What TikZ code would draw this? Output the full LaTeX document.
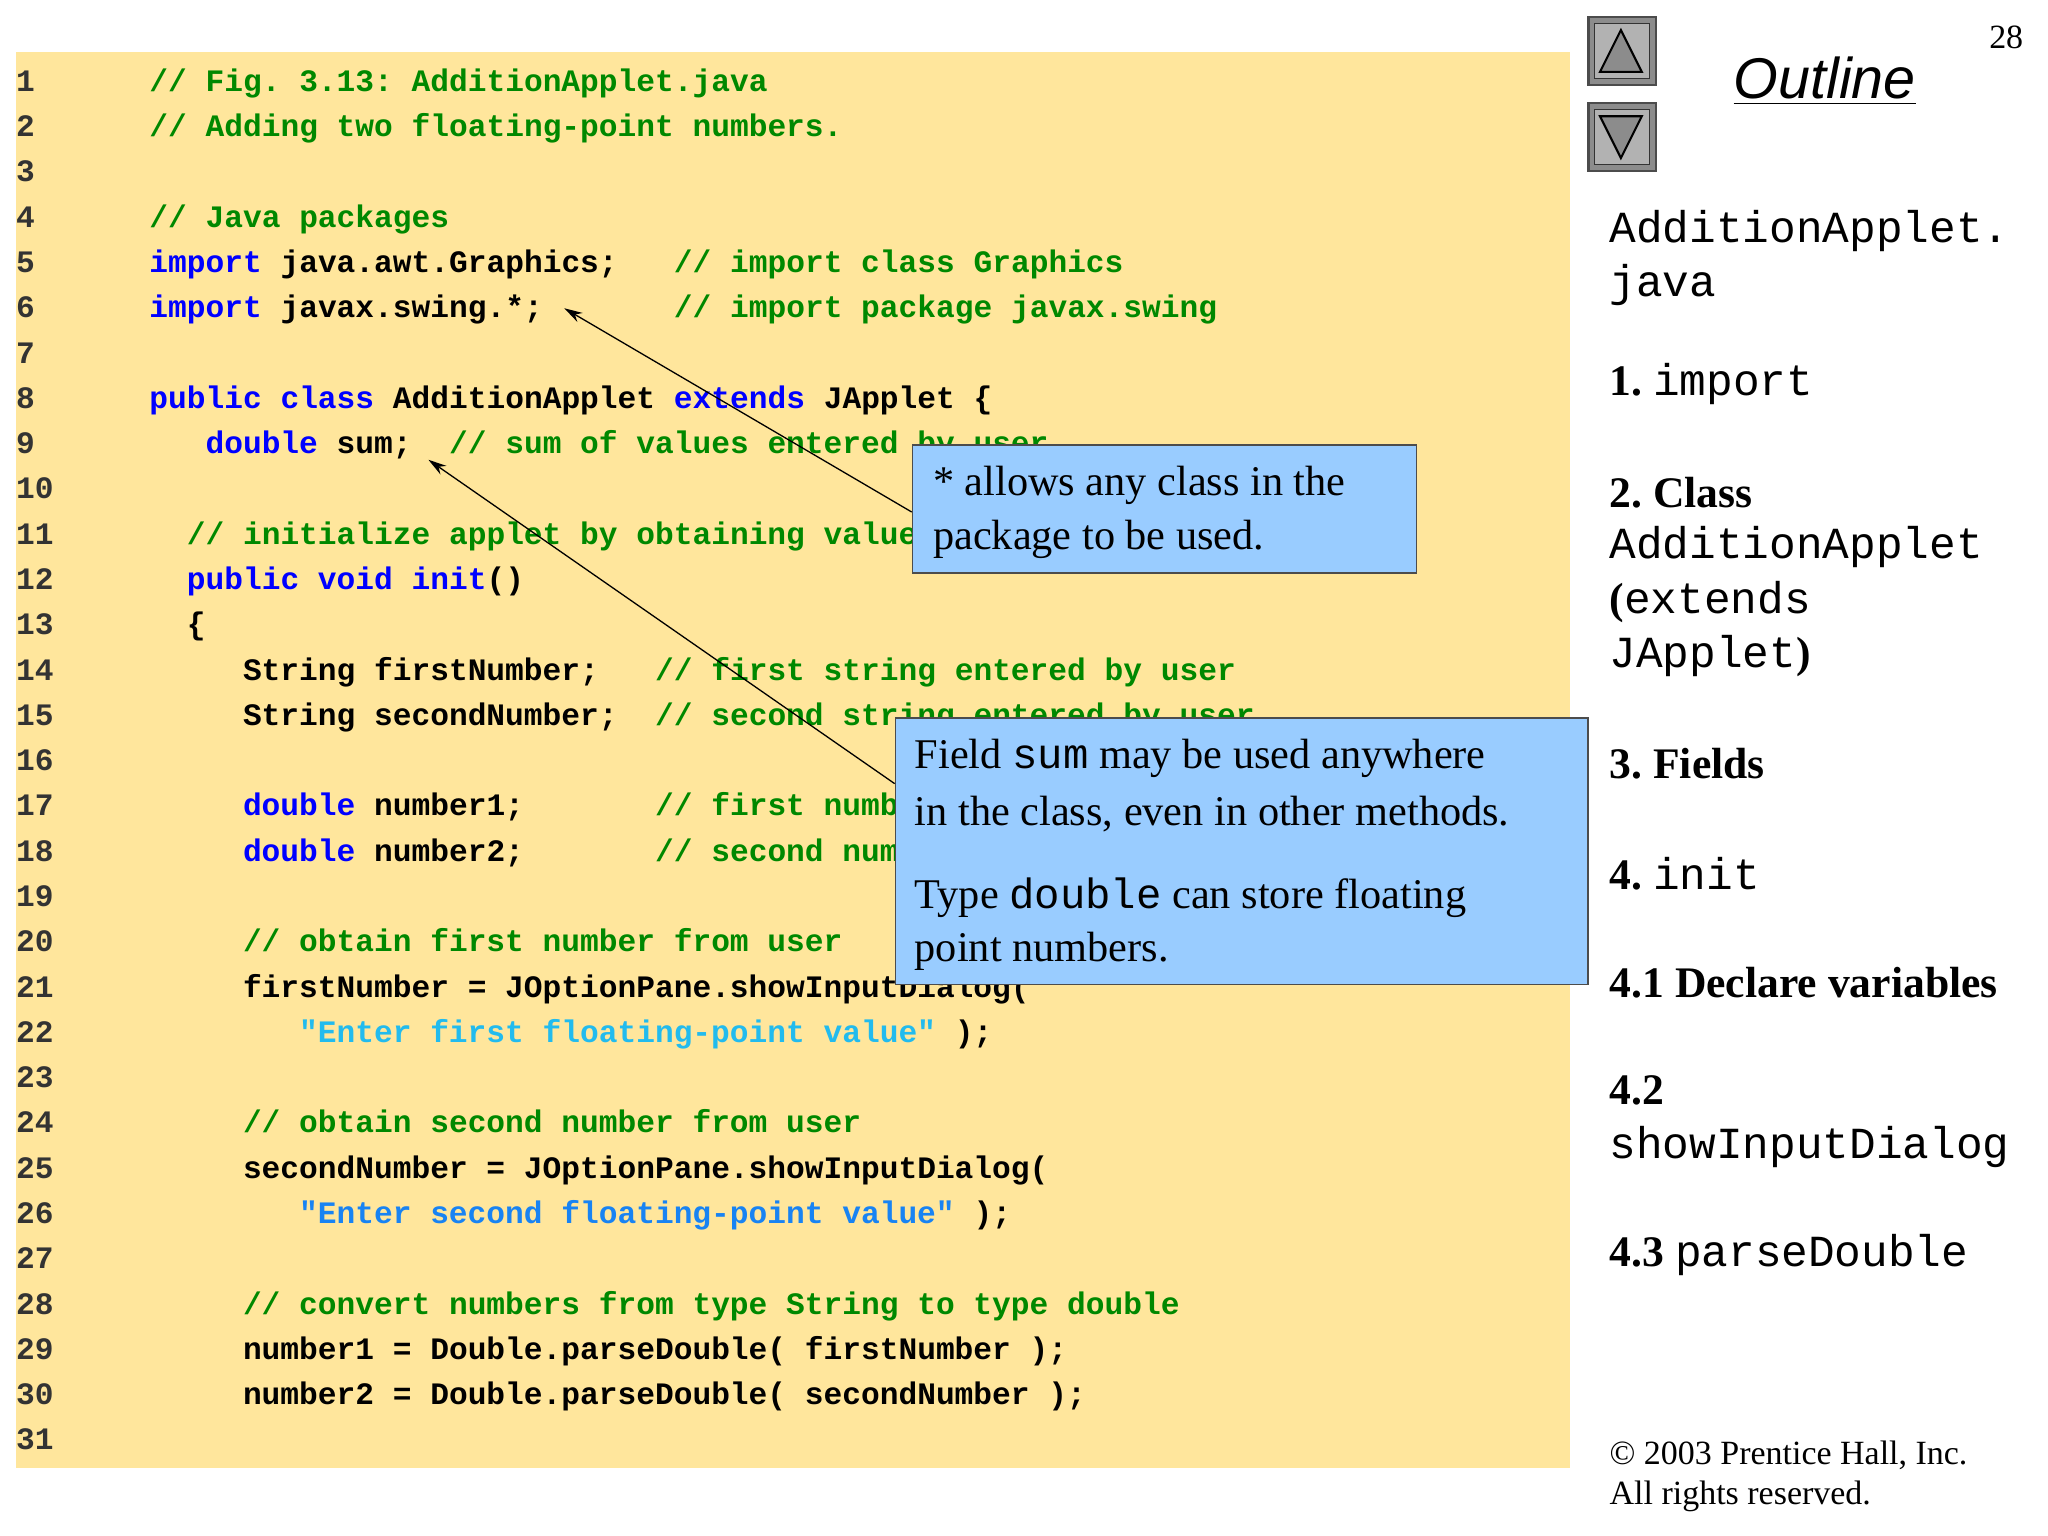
\documentclass[tikz,border=0pt]{standalone}
\usepackage{fontspec}
\usetikzlibrary{arrows.meta}
\setmainfont{Liberation Serif}
\newfontfamily\cmono{Liberation Mono}
\newfontfamily\osans{Liberation Sans}
\definecolor{codebg}{HTML}{FFE69C}
\definecolor{kwc}{HTML}{0000FF}
\definecolor{cmc}{HTML}{008800}
\definecolor{stc}{HTML}{22BBEE}
\definecolor{boxc}{HTML}{99CCFF}
\newcommand\kw[1]{\textcolor{kwc}{#1}}
\newcommand\cm[1]{\textcolor{cmc}{#1}}
\newcommand\stq[1]{\textcolor{stc}{#1}}
\newcommand\cl[3]{\node[code] (l#1) at ({114+#2*14.33},{64+(#1-1)*34.67}) {#3};}
\frenchspacing
\begin{document}
\frenchspacing
\begin{tikzpicture}[x=0.5pt,y=-0.5pt,
 code/.style={anchor=west,inner sep=0,font=\cmono\bfseries\fontsize{11.95}{14}\selectfont,text height=8pt,text depth=2pt},
 num/.style={code,text=black!80},
 callout/.style={draw=black!70,fill=boxc,line width=0.6pt,anchor=north west,inner sep=0},
 ctext/.style={anchor=west,inner sep=0,font=\fontsize{16.2}{19}\selectfont},
 side/.style={anchor=west,inner sep=0,font=\fontsize{16.7}{20}\selectfont},
 smono/.style={font=\cmono\fontsize{17}{20}\selectfont},
 arr/.style={-{Stealth[length=7pt,width=4pt]},line width=0.5pt}]
\useasboundingbox (0,0) rectangle (1568,1176);
\fill[white] (0,0) rectangle (1568,1176);
\fill[codebg] (12,40) rectangle (1202,1124);
\foreach \i in {1,...,31}{\node[num] (n\i) at (12,{64+(\i-1)*34.67}) {\i};}
\cl{1}{0}{\cm{// Fig. 3.13: AdditionApplet.java}}
\cl{2}{0}{\cm{// Adding two floating-point numbers.}}
\cl{4}{0}{\cm{// Java packages}}
\cl{5}{0}{\kw{import} java.awt.Graphics;~~~\cm{// import class Graphics}}
\cl{6}{0}{\kw{import} javax.swing.*;~~~~~~~\cm{// import package javax.swing}}
\cl{8}{0}{\kw{public class} AdditionApplet \kw{extends} JApplet \{}
\cl{9}{3}{\kw{double} sum;~~\cm{// sum of values entered by user}}
\cl{11}{2}{\cm{// initialize applet by obtaining values from user}}
\cl{12}{2}{\kw{public void init}()}
\cl{13}{2}{\{}
\cl{14}{5}{String firstNumber;~~~\cm{// first string entered by user}}
\cl{15}{5}{String secondNumber;~~\cm{// second string entered by user}}
\cl{17}{5}{\kw{double} number1;~~~~~~~\cm{// first number to add}}
\cl{18}{5}{\kw{double} number2;~~~~~~~\cm{// second number to add}}
\cl{20}{5}{\cm{// obtain first number from user}}
\cl{21}{5}{firstNumber = JOptionPane.showInputDialog(}
\cl{22}{8}{\stq{"Enter first floating-point value"} );}
\cl{24}{5}{\cm{// obtain second number from user}}
\cl{25}{5}{secondNumber = JOptionPane.showInputDialog(}
\cl{26}{8}{\textcolor{stc!70!blue}{"Enter second floating-point value"} );}
\cl{28}{5}{\cm{// convert numbers from type String to type double}}
\cl{29}{5}{number1 = Double.parseDouble( firstNumber );}
\cl{30}{5}{number2 = Double.parseDouble( secondNumber );}
% callouts
\node[callout,minimum width=193pt,minimum height=49pt] (b1) at (698,340) {};
\node[ctext] (b1t1) at (714,372) {* allows any class in the};
\node[ctext] (b1t2) at (714,413) {package to be used.};
\node[callout,minimum width=265pt,minimum height=102pt] (b2) at (685,549) {};
\node[ctext] (b2t1) at (700,581) {Field {\cmono sum} may be used anywhere};
\node[ctext] (b2t2) at (700,623) {in the class, even in other methods.};
\node[ctext] (b2t3) at (700,687) {Type {\cmono double} can store floating};
\node[ctext] (b2t4) at (700,728) {point numbers.};
\coordinate (a1s) at (698,392);
\coordinate (a1e) at (432,236);
\coordinate (a2s) at (685,600);
\coordinate (a2e) at (328,352);
\draw[arr] (a1s) -- (a1e);
\draw[arr] (a2s) -- (a2e);
% side panel
\foreach \y/\nm/\d in {12/up/1,78/down/0}{
 \node[draw=black!70,fill=black!45,line width=1pt,minimum size=26pt,inner sep=0,anchor=north west] (btn\nm) at (1215,\y) {};
 \node[draw=black!80,fill=black!30,minimum size=21pt,inner sep=0] (btni\nm) at (btn\nm.center) {};
}
\draw[fill=black!45,line width=0.8pt] (1241,23) -- (1225,55) -- (1257,55) -- cycle;
\draw[fill=black!45,line width=0.8pt] (1241,121) -- (1225,89) -- (1257,89) -- cycle;
\node[anchor=center,inner sep=0,font=\osans\itshape\fontsize{22}{26}\selectfont] (outl) at (1397,62) {\underline{Outline}};
\node[anchor=center,inner sep=0,font=\fontsize{13}{16}\selectfont] (pg) at (1536,29) {28};
\node[side,smono] (s1) at (1232,177) {AdditionApplet.};
\node[side,smono] (s2) at (1232,218) {java};
\node[side] (s3) at (1232,294) {\textbf{1.} {\cmono\fontsize{17}{20}\selectfont import}};
\node[side] (s4) at (1232,377) {\textbf{2. Class}};
\node[side,smono] (s5) at (1232,419) {AdditionApplet};
\node[side] (s6) at (1232,461) {\textbf{(}{\cmono\fontsize{17}{20}\selectfont extends}};
\node[side] (s7) at (1232,502) {{\cmono\fontsize{17}{20}\selectfont JApplet}\textbf{)}};
\node[side] (s8) at (1232,585) {\textbf{3. Fields}};
\node[side] (s9) at (1232,669) {\textbf{4.} {\cmono\fontsize{17}{20}\selectfont init}};
\node[side] (s10) at (1232,752) {\textbf{4.1 Declare variables}};
\node[side] (s11) at (1232,835) {\textbf{4.2}};
\node[side,smono] (s12) at (1232,878) {showInputDialog};
\node[side] (s13) at (1232,961) {\textbf{4.3} {\cmono\fontsize{17}{20}\selectfont parseDouble}};
\node[anchor=west,inner sep=0,font=\fontsize{13}{16}\selectfont] (c1) at (1232,1114) {\textcopyright\ 2003 Prentice Hall, Inc.};
\node[anchor=west,inner sep=0,font=\fontsize{13}{16}\selectfont] (c2) at (1232,1146) {All rights reserved.};
\end{tikzpicture}
\end{document}
